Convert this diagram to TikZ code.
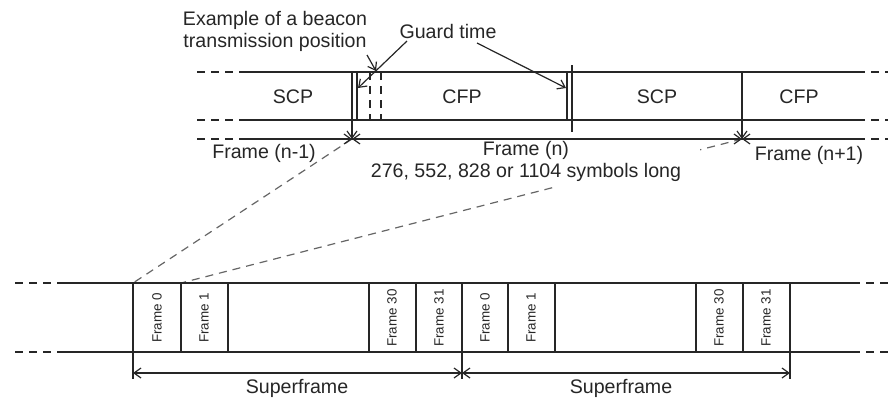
\documentclass[tikz,border=0pt]{standalone}
\usepackage{fontspec}
\setmainfont{Liberation Sans}
\usetikzlibrary{arrows.meta}
\begin{document}
\begin{tikzpicture}[x=0.5pt,y=-0.5pt,
  ln/.style={line width=0.6pt,draw=black!85},
  dsh/.style={line width=0.6pt,draw=black!85,dash pattern=on 4pt off 3pt},
  conn/.style={line width=0.6pt,dash pattern=on 4pt off 3pt,draw=black!60},
  tip/.style={-{Straight Barb[length=3.5pt,width=5pt]}},
  bitip/.style={{Straight Barb[length=3.5pt,width=5pt]}-{Straight Barb[length=3.5pt,width=5pt]}},
  lbl/.style={font=\fontsize{9.8pt}{11pt}\selectfont,inner sep=1pt,text=black!85},
  flbl/.style={font=\fontsize{6.7pt}{8pt}\selectfont,rotate=90,inner sep=0pt,text=black!85}]
\useasboundingbox (0,0) rectangle (888,398);

% ---------- zoom connectors (drawn first, masked by the text) ----------
\coordinate (fA) at (352,139);
\coordinate (fB) at (742,139);
\coordinate (z0) at (133,283);
\coordinate (z1) at (181,283);
\draw[conn] (fA) -- (z0);
\draw[conn] (fB) -- (z1);
\fill[white] (365,144) rectangle (700,187);

% ---------- top band ----------
\foreach \y in {72,120,139} {
  \draw[dsh] (197,\y) -- (240,\y);
  \draw[ln] (240,\y) -- (857,\y);
  \draw[dsh] (857,\y) -- (888,\y);
}
% arrow tips on the frame dimension line
\draw[ln,tip] (330,139) -- (fA);
\draw[ln,bitip] (fA) -- (fB);
\draw[ln,tip] (770,139) -- (fB);

\draw[ln,tip] (352,72) -- (fA);
\draw[ln] (357,72) -- (357,120);
\draw[dsh] (370,72) -- (370,120);
\draw[dsh] (381,72) -- (381,120);
\draw[ln] (567,72) -- (567,120);
\draw[ln] (572,65) -- (572,132);
\draw[ln,tip] (742,72) -- (fB);

\node[lbl] (scp1) at (293,97) {SCP};
\node[lbl] (cfp1) at (462,97) {CFP};
\node[lbl] (scp2) at (657,97) {SCP};
\node[lbl] (cfp2) at (799,97) {CFP};

\node[lbl] (fnm1) at (264,153) {Frame (n-1)};
\node[lbl] (fnp1) at (809,155) {Frame (n+1)};
\node[lbl,align=center] (fn) at (526,161)
  {Frame (n)\\276, 552, 828 or 1104 symbols long};

\node[lbl,align=center] (ex) at (275,31) {Example of a beacon\\transmission position};
\node[lbl] (gt) at (448,31) {Guard time};

\coordinate (exs) at (367,55);
\coordinate (bcn) at (376,71);
\coordinate (g1s) at (407,41);
\coordinate (g1e) at (358,88);
\coordinate (g2s) at (477,43);
\coordinate (g2e) at (566,88);
\draw[ln,tip] (exs) -- (bcn);
\draw[ln,tip] (g1s) -- (g1e);
\draw[ln,tip] (g2s) -- (g2e);

% ---------- bottom band ----------
\foreach \y in {283,352} {
  \draw[dsh] (15,\y) -- (60,\y);
  \draw[ln] (60,\y) -- (852,\y);
  \draw[dsh] (852,\y) -- (888,\y);
}
\foreach \x in {181,228,369,416,508,555,696,743} {
  \draw[ln] (\x,283) -- (\x,352);
}
\foreach \x in {133,462,790} {
  \draw[ln] (\x,283) -- (\x,379);
}
\coordinate (s0) at (133,373);
\coordinate (s1) at (462,373);
\coordinate (s2) at (790,373);
\draw[ln,bitip] (s0) -- (s1);
\draw[ln,bitip] (s1) -- (s2);
\node[lbl] (sf1) at (297,388) {Superframe};
\node[lbl] (sf2) at (621,388) {Superframe};

\node[flbl] (a0)  at (157,318) {Frame 0};
\node[flbl] (a1)  at (204,318) {Frame 1};
\node[flbl] (a30) at (392,318) {Frame 30};
\node[flbl] (a31) at (439,318) {Frame 31};
\node[flbl] (b0)  at (485,318) {Frame 0};
\node[flbl] (b1)  at (531,318) {Frame 1};
\node[flbl] (b30) at (719,318) {Frame 30};
\node[flbl] (b31) at (766,318) {Frame 31};
\end{tikzpicture}
\end{document}
